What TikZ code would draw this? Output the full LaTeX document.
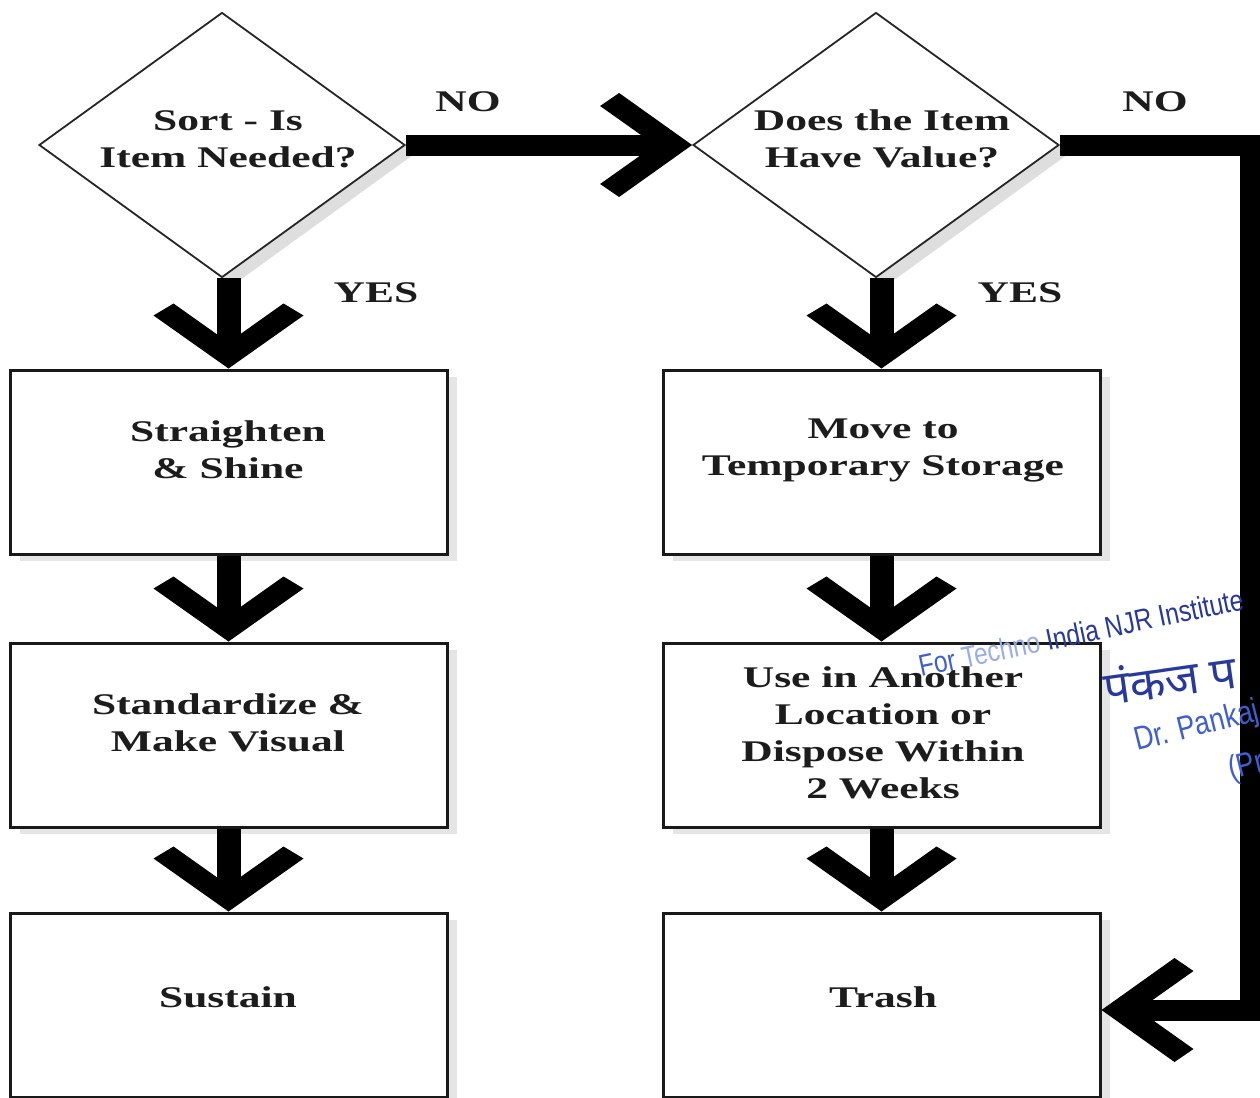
\documentclass[tikz,border=0pt]{standalone}
\usepackage{fontspec}
\usetikzlibrary{shapes.geometric,shadows}
\newfontfamily\diagfont{Liberation Serif}[FakeStretch=1.45]
\newfontfamily\stampfont{Liberation Sans}[FakeStretch=0.82]
\newfontfamily\devfont[Script=Devanagari]{Noto Sans}
\definecolor{ink}{HTML}{1C1C1C}
\definecolor{stampdark}{HTML}{27399C}
\definecolor{stampmid}{HTML}{3F5FCF}
\definecolor{stamplight}{HTML}{9AAEE6}
\begin{document}
\begin{tikzpicture}[x=1pt,y=-1pt,
  txt/.style={font=\diagfont\bfseries\fontsize{30}{37}\selectfont, text=ink, align=center, inner sep=0pt},
  decision/.style={diamond, draw=black!85, line width=1.8pt, fill=white, minimum width=366pt, minimum height=265pt, inner sep=0pt,
    drop shadow={shadow xshift=11pt, shadow yshift=-8pt, fill=black, opacity=0.13}},
  process/.style={rectangle, draw=black!90, line width=3pt, fill=white, minimum width=437pt, minimum height=184pt, inner sep=0pt,
    drop shadow={shadow xshift=10pt, shadow yshift=-7pt, fill=black, opacity=0.10}},
  shaft/.style={draw=black, line width=24pt, line join=miter},
  stamp/.style={font=\stampfont\fontsize{30}{32}\selectfont, inner sep=0pt, anchor=base west},
  chevV/.pic={\fill[black] (0,0) -- (-53,75) -- (-65,55) -- (-26,0) -- (-65,-55) -- (-53,-75) -- cycle;},
  chevH/.pic={\fill[black] (0,0) -- (-73,52) -- (-92,39) -- (-37,0) -- (-92,-39) -- (-73,-52) -- cycle;}
]
\clip (0,0) rectangle (1260,1097);
\fill[white] (0,0) rectangle (1260,1097);

% decision shapes
\node[decision] (d1) at (222,145) {};
\node[decision] (d2) at (876,145) {};
\node[txt] (t1) at (228,139) {Sort - Is\\Item Needed?};
\node[txt] (t2) at (882,139) {Does the Item\\Have Value?};

% process boxes
\node[process] (b1) at (228.5,462) {};
\node[process] (b2) at (228.5,735) {};
\node[process] (b3) at (228.5,1005) {};
\node[process] (b4) at (881.5,462) {};
\node[process] (b5) at (881.5,735) {};
\node[process] (b6) at (881.5,1005) {};
\node[txt] (t3) at (228,450) {Straighten\\\& Shine};
\node[txt] (t4) at (228,723) {Standardize \&\\Make Visual};
\node[txt] (t5) at (228,997) {Sustain};
\node[txt] (t6) at (883,450) {Move to\\Temporary Storage};
\node[txt] (t7) at (883,733) {Use in Another\\Location or\\Dispose Within\\2 Weeks};
\node[txt] (t8) at (883,997) {Trash};

% labels
\node[txt] (no1) at (468,102) {NO};
\node[txt] (no2) at (1155,102) {NO};
\node[txt] (yes1) at (376,293) {YES};
\node[txt] (yes2) at (1020,293) {YES};

% connectors
\coordinate (c1) at (1250,145);
\coordinate (c2) at (1250,1010);
\draw[shaft, line width=21pt, shorten >=35pt] (d1.east) -- (d2.west);
\pic at (d2.west) {chevH};
\draw[shaft, line width=21pt, shorten >=35pt] (d2.east) -- (c1) -- (c2) -- (b6.east |- c2);
\pic[rotate=180] at (b6.east |- c2) {chevH};

\draw[shaft, shorten >=24pt] (b1.north |- d1.south) -- (b1.north);
\pic[rotate=-90] at (b1.north) {chevV};
\draw[shaft, shorten >=24pt] (b1.south) -- (b2.north);
\pic[rotate=-90] at (b2.north) {chevV};
\draw[shaft, shorten >=24pt] (b2.south) -- (b3.north);
\pic[rotate=-90] at (b3.north) {chevV};

\draw[shaft, shorten >=24pt] (b4.north |- d2.south) -- (b4.north);
\pic[rotate=-90] at (b4.north) {chevV};
\draw[shaft, shorten >=24pt] (b4.south) -- (b5.north);
\pic[rotate=-90] at (b5.north) {chevV};
\draw[shaft, shorten >=24pt] (b5.south) -- (b6.north);
\pic[rotate=-90] at (b6.north) {chevV};

% stamp
\node[stamp, rotate=11.8] (w1) at (921,677) {\textcolor{stampmid}{For} \textcolor{stamplight}{Techno} \textcolor{stampdark}{India NJR Institute}};
\node[inner sep=0pt, anchor=base west, rotate=8, font=\devfont\fontsize{46}{48}\selectfont, text=stampdark] (w2) at (1106,706) {पंकज प};
\node[stamp, rotate=14, text=stampmid, font=\stampfont\fontsize{33}{34}\selectfont] (w3) at (1137,751) {Dr. Pankaj};
\node[stamp, rotate=14, text=stampmid, font=\stampfont\fontsize{33}{34}\selectfont] (w4) at (1231,780) {(Pr};
\end{tikzpicture}
\end{document}
